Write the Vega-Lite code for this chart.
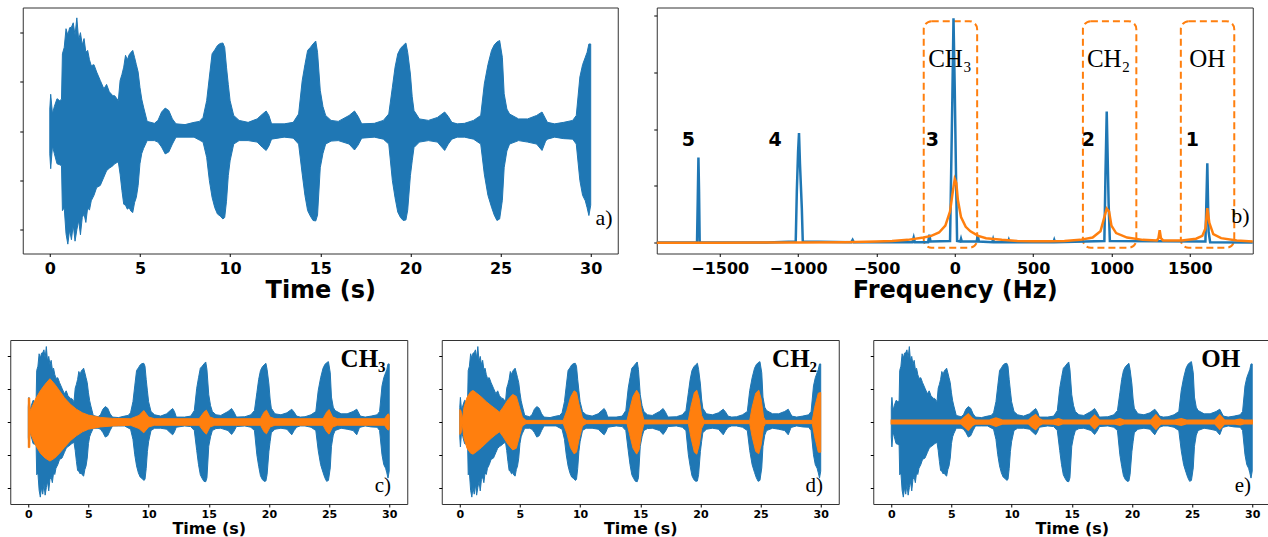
{
"$schema": "https://vega.github.io/schema/vega-lite/v6.json",
"background": "white",
"padding": {"left": 6, "top": 6.5, "right": 0, "bottom": 0},
"config": {
  "view": {"stroke": "#333", "strokeWidth": 1},
  "axis": {"grid": false, "domain": false, "tickColor": "#000", "tickSize": 3, "tickWidth": 1, "labelColor": "#000", "titleColor": "#000", "labelFont": "DejaVu Sans", "titleFont": "DejaVu Sans", "labelFontWeight": "bold", "titleFontWeight": "bold"}
},
"datasets": {
"blue": [
{"t":0.0,"u":0.45,"l":-0.46},{"t":0.05,"u":0.75,"l":-0.76},{"t":0.15,"u":0.35,"l":-0.30},{"t":0.25,"u":0.5,"l":-0.45},{"t":0.4,"u":0.66,"l":-0.66},{"t":0.55,"u":0.62,"l":-0.68},{"t":0.65,"u":0.65,"l":-0.7},{"t":0.7,"u":1.57,"l":-1.61},{"t":0.8,"u":1.7,"l":-1.55},{"t":0.9,"u":2.08,"l":-2.08},{"t":1.0,"u":1.95,"l":-2.29},{"t":1.1,"u":2.1,"l":-2.0},{"t":1.2,"u":2.11,"l":-2.2},{"t":1.3,"u":2.2,"l":-1.9},{"t":1.4,"u":1.95,"l":-2.23},{"t":1.5,"u":2.3,"l":-2.0},{"t":1.6,"u":1.85,"l":-1.81},{"t":1.7,"u":2.0,"l":-2.1},{"t":1.8,"u":1.75,"l":-1.75},{"t":1.9,"u":1.88,"l":-1.68},{"t":2.0,"u":1.6,"l":-1.85},{"t":2.1,"u":1.64,"l":-1.55},{"t":2.2,"u":1.45,"l":-1.6},{"t":2.3,"u":1.33,"l":-1.41},{"t":2.45,"u":1.35,"l":-1.3},{"t":2.6,"u":1.2,"l":-1.14},{"t":2.8,"u":1.03,"l":-1.1},{"t":3.0,"u":0.86,"l":-0.93},{"t":3.15,"u":0.95,"l":-0.8},{"t":3.3,"u":0.8,"l":-0.75},{"t":3.5,"u":0.72,"l":-0.7},{"t":3.6,"u":0.72,"l":-0.66},{"t":3.8,"u":0.62,"l":-0.62},{"t":3.9,"u":1.03,"l":-0.87},{"t":4.0,"u":1.15,"l":-1.2},{"t":4.1,"u":1.3,"l":-1.48},{"t":4.2,"u":1.54,"l":-1.5},{"t":4.3,"u":1.45,"l":-1.58},{"t":4.4,"u":1.55,"l":-1.55},{"t":4.5,"u":1.6,"l":-1.62},{"t":4.6,"u":1.64,"l":-1.65},{"t":4.7,"u":1.5,"l":-1.45},{"t":4.8,"u":1.35,"l":-1.34},{"t":4.9,"u":1.2,"l":-1.1},{"t":5.0,"u":0.89,"l":-0.66},{"t":5.1,"u":0.65,"l":-0.45},{"t":5.2,"u":0.49,"l":-0.35},{"t":5.4,"u":0.2,"l":-0.19},{"t":5.8,"u":0.16,"l":-0.19},{"t":6.0,"u":0.22,"l":-0.22},{"t":6.2,"u":0.39,"l":-0.32},{"t":6.4,"u":0.47,"l":-0.46},{"t":6.6,"u":0.42,"l":-0.42},{"t":6.8,"u":0.25,"l":-0.26},{"t":7.0,"u":0.15,"l":-0.12},{"t":7.5,"u":0.135,"l":-0.12},{"t":8.0,"u":0.18,"l":-0.12},{"t":8.3,"u":0.2,"l":-0.18},{"t":8.5,"u":0.28,"l":-0.22},{"t":8.7,"u":0.62,"l":-0.53},{"t":8.85,"u":1.1,"l":-1.0},{"t":9.0,"u":1.57,"l":-1.34},{"t":9.15,"u":1.65,"l":-1.55},{"t":9.3,"u":1.74,"l":-1.68},{"t":9.45,"u":1.78,"l":-1.72},{"t":9.6,"u":1.79,"l":-1.78},{"t":9.7,"u":1.7,"l":-1.75},{"t":9.8,"u":1.3,"l":-1.42},{"t":9.9,"u":0.95,"l":-0.9},{"t":10.0,"u":0.62,"l":-0.6},{"t":10.2,"u":0.32,"l":-0.26},{"t":10.5,"u":0.22,"l":-0.19},{"t":11.0,"u":0.18,"l":-0.19},{"t":11.5,"u":0.25,"l":-0.22},{"t":11.8,"u":0.35,"l":-0.33},{"t":12.0,"u":0.41,"l":-0.39},{"t":12.15,"u":0.32,"l":-0.3},{"t":12.3,"u":0.15,"l":-0.16},{"t":13.0,"u":0.15,"l":-0.12},{"t":13.5,"u":0.18,"l":-0.14},{"t":13.8,"u":0.35,"l":-0.26},{"t":14.0,"u":1.03,"l":-0.87},{"t":14.15,"u":1.35,"l":-1.3},{"t":14.3,"u":1.64,"l":-1.61},{"t":14.45,"u":1.7,"l":-1.72},{"t":14.6,"u":1.77,"l":-1.81},{"t":14.75,"u":1.83,"l":-1.82},{"t":14.85,"u":1.6,"l":-1.7},{"t":15.0,"u":0.83,"l":-0.74},{"t":15.15,"u":0.5,"l":-0.45},{"t":15.3,"u":0.32,"l":-0.26},{"t":15.6,"u":0.22,"l":-0.2},{"t":16.0,"u":0.2,"l":-0.19},{"t":16.6,"u":0.32,"l":-0.26},{"t":16.9,"u":0.41,"l":-0.38},{"t":17.1,"u":0.3,"l":-0.28},{"t":17.3,"u":0.15,"l":-0.14},{"t":18.0,"u":0.16,"l":-0.12},{"t":18.5,"u":0.22,"l":-0.16},{"t":18.8,"u":0.35,"l":-0.26},{"t":19.0,"u":0.89,"l":-1.0},{"t":19.15,"u":1.3,"l":-1.35},{"t":19.3,"u":1.57,"l":-1.64},{"t":19.45,"u":1.68,"l":-1.75},{"t":19.6,"u":1.74,"l":-1.81},{"t":19.75,"u":1.79,"l":-1.8},{"t":19.85,"u":1.6,"l":-1.6},{"t":20.0,"u":1.16,"l":-0.9},{"t":20.1,"u":0.7,"l":-0.6},{"t":20.2,"u":0.42,"l":-0.33},{"t":20.5,"u":0.25,"l":-0.22},{"t":21.0,"u":0.22,"l":-0.19},{"t":21.5,"u":0.28,"l":-0.22},{"t":21.9,"u":0.39,"l":-0.39},{"t":22.1,"u":0.3,"l":-0.26},{"t":22.3,"u":0.18,"l":-0.16},{"t":22.6,"u":0.15,"l":-0.12},{"t":23.0,"u":0.16,"l":-0.12},{"t":23.5,"u":0.22,"l":-0.16},{"t":23.9,"u":0.32,"l":-0.26},{"t":24.1,"u":0.96,"l":-0.87},{"t":24.3,"u":1.35,"l":-1.3},{"t":24.5,"u":1.64,"l":-1.54},{"t":24.65,"u":1.75,"l":-1.7},{"t":24.8,"u":1.81,"l":-1.81},{"t":24.95,"u":1.84,"l":-1.78},{"t":25.1,"u":1.5,"l":-1.4},{"t":25.2,"u":0.76,"l":-0.74},{"t":25.35,"u":0.45,"l":-0.4},{"t":25.5,"u":0.35,"l":-0.26},{"t":26.0,"u":0.25,"l":-0.19},{"t":26.5,"u":0.25,"l":-0.22},{"t":27.0,"u":0.32,"l":-0.26},{"t":27.3,"u":0.39,"l":-0.39},{"t":27.5,"u":0.25,"l":-0.2},{"t":27.6,"u":0.18,"l":-0.16},{"t":28.0,"u":0.15,"l":-0.12},{"t":28.5,"u":0.18,"l":-0.15},{"t":29.0,"u":0.22,"l":-0.16},{"t":29.2,"u":0.32,"l":-0.26},{"t":29.4,"u":1.1,"l":-1.0},{"t":29.55,"u":1.35,"l":-1.3},{"t":29.7,"u":1.5,"l":-1.41},{"t":29.8,"u":1.6,"l":-1.55},{"t":29.9,"u":1.77,"l":-1.71},{"t":30.0,"u":1.77,"l":-1.5}
],
"ch3": [
{"t":0.0,"u":0.73,"l":-0.78},{"t":0.12,"u":0.73,"l":-0.78},{"t":0.15,"u":0.35,"l":-0.3},{"t":0.3,"u":0.45,"l":-0.45},{"t":0.6,"u":0.7,"l":-0.7},{"t":1.0,"u":0.95,"l":-0.95},{"t":1.4,"u":1.15,"l":-1.1},{"t":1.8,"u":1.32,"l":-1.19},{"t":2.2,"u":1.15,"l":-1.1},{"t":2.6,"u":0.95,"l":-0.95},{"t":3.0,"u":0.74,"l":-0.78},{"t":3.5,"u":0.54,"l":-0.57},{"t":4.0,"u":0.39,"l":-0.42},{"t":4.5,"u":0.28,"l":-0.3},{"t":5.0,"u":0.21,"l":-0.22},{"t":6.0,"u":0.14,"l":-0.15},{"t":7.0,"u":0.11,"l":-0.12},{"t":8.5,"u":0.1,"l":-0.1},{"t":9.2,"u":0.2,"l":-0.2},{"t":9.6,"u":0.35,"l":-0.33},{"t":10.0,"u":0.15,"l":-0.15},{"t":10.5,"u":0.1,"l":-0.1},{"t":14.2,"u":0.1,"l":-0.1},{"t":14.6,"u":0.3,"l":-0.3},{"t":14.8,"u":0.36,"l":-0.37},{"t":15.1,"u":0.15,"l":-0.15},{"t":15.5,"u":0.1,"l":-0.1},{"t":19.3,"u":0.1,"l":-0.1},{"t":19.6,"u":0.3,"l":-0.3},{"t":19.8,"u":0.36,"l":-0.36},{"t":20.1,"u":0.15,"l":-0.15},{"t":20.5,"u":0.1,"l":-0.1},{"t":24.5,"u":0.1,"l":-0.1},{"t":24.8,"u":0.3,"l":-0.3},{"t":25.0,"u":0.38,"l":-0.37},{"t":25.3,"u":0.15,"l":-0.15},{"t":25.7,"u":0.1,"l":-0.1},{"t":29.6,"u":0.1,"l":-0.1},{"t":29.9,"u":0.25,"l":-0.25},{"t":30.0,"u":0.22,"l":-0.22}
],
"ch2": [
{"t":0.0,"u":0.38,"l":-0.38},{"t":0.1,"u":0.35,"l":-0.35},{"t":0.2,"u":0.06,"l":-0.06},{"t":0.35,"u":0.45,"l":-0.5},{"t":0.6,"u":0.75,"l":-0.8},{"t":0.9,"u":0.92,"l":-0.95},{"t":1.1,"u":0.96,"l":-0.98},{"t":1.4,"u":0.88,"l":-0.9},{"t":1.8,"u":0.76,"l":-0.78},{"t":2.2,"u":0.62,"l":-0.64},{"t":2.6,"u":0.5,"l":-0.5},{"t":3.0,"u":0.39,"l":-0.38},{"t":3.3,"u":0.3,"l":-0.3},{"t":3.6,"u":0.45,"l":-0.45},{"t":4.0,"u":0.68,"l":-0.68},{"t":4.4,"u":0.84,"l":-0.85},{"t":4.7,"u":0.78,"l":-0.8},{"t":5.0,"u":0.4,"l":-0.38},{"t":5.2,"u":0.15,"l":-0.12},{"t":5.5,"u":0.05,"l":-0.05},{"t":8.6,"u":0.05,"l":-0.05},{"t":8.9,"u":0.35,"l":-0.35},{"t":9.2,"u":0.75,"l":-0.78},{"t":9.5,"u":0.95,"l":-0.97},{"t":9.7,"u":0.9,"l":-0.92},{"t":9.9,"u":0.55,"l":-0.55},{"t":10.2,"u":0.12,"l":-0.12},{"t":10.5,"u":0.05,"l":-0.05},{"t":13.9,"u":0.05,"l":-0.05},{"t":14.1,"u":0.35,"l":-0.35},{"t":14.4,"u":0.78,"l":-0.8},{"t":14.7,"u":0.97,"l":-0.98},{"t":14.9,"u":0.85,"l":-0.85},{"t":15.1,"u":0.35,"l":-0.35},{"t":15.3,"u":0.06,"l":-0.06},{"t":19.0,"u":0.05,"l":-0.05},{"t":19.2,"u":0.45,"l":-0.45},{"t":19.5,"u":0.9,"l":-0.92},{"t":19.7,"u":0.97,"l":-0.98},{"t":19.9,"u":0.7,"l":-0.7},{"t":20.1,"u":0.2,"l":-0.2},{"t":20.3,"u":0.05,"l":-0.05},{"t":24.1,"u":0.05,"l":-0.05},{"t":24.3,"u":0.45,"l":-0.45},{"t":24.6,"u":0.88,"l":-0.9},{"t":24.85,"u":0.97,"l":-0.97},{"t":25.05,"u":0.7,"l":-0.7},{"t":25.25,"u":0.15,"l":-0.15},{"t":25.4,"u":0.05,"l":-0.05},{"t":29.3,"u":0.05,"l":-0.05},{"t":29.5,"u":0.45,"l":-0.45},{"t":29.8,"u":0.88,"l":-0.92},{"t":30.0,"u":0.9,"l":-0.92}
],
"oh": [
{"t":0.0,"u":0.05,"l":-0.05},{"t":5.8,"u":0.05,"l":-0.05},{"t":6.1,"u":0.15,"l":-0.15},{"t":6.4,"u":0.24,"l":-0.25},{"t":6.7,"u":0.12,"l":-0.12},{"t":7.0,"u":0.05,"l":-0.05},{"t":8.2,"u":0.06,"l":-0.06},{"t":8.7,"u":0.12,"l":-0.13},{"t":9.2,"u":0.06,"l":-0.06},{"t":11.4,"u":0.05,"l":-0.05},{"t":11.7,"u":0.15,"l":-0.15},{"t":12.0,"u":0.22,"l":-0.23},{"t":12.3,"u":0.1,"l":-0.1},{"t":12.6,"u":0.05,"l":-0.05},{"t":13.5,"u":0.06,"l":-0.06},{"t":13.9,"u":0.1,"l":-0.1},{"t":14.3,"u":0.05,"l":-0.05},{"t":16.5,"u":0.05,"l":-0.05},{"t":16.9,"u":0.2,"l":-0.2},{"t":17.3,"u":0.05,"l":-0.05},{"t":18.6,"u":0.06,"l":-0.06},{"t":19.0,"u":0.1,"l":-0.1},{"t":19.4,"u":0.05,"l":-0.05},{"t":21.6,"u":0.05,"l":-0.05},{"t":22.0,"u":0.22,"l":-0.22},{"t":22.4,"u":0.05,"l":-0.05},{"t":23.6,"u":0.06,"l":-0.06},{"t":24.1,"u":0.1,"l":-0.1},{"t":24.6,"u":0.05,"l":-0.05},{"t":26.9,"u":0.05,"l":-0.05},{"t":27.3,"u":0.22,"l":-0.22},{"t":27.7,"u":0.05,"l":-0.05},{"t":28.6,"u":0.06,"l":-0.06},{"t":29.0,"u":0.08,"l":-0.08},{"t":29.4,"u":0.05,"l":-0.05},{"t":30.0,"u":0.05,"l":-0.05}
],
"specB": [
{"f":-1902,"v":0.005},{"f":-1700,"v":0.005},{"f":-1645,"v":0.01},{"f":-1640,"v":0.8},{"f":-1636,"v":1.5},{"f":-1632,"v":0.9},{"f":-1628,"v":0.01},{"f":-1200,"v":0.005},{"f":-1015,"v":0.02},{"f":-1008,"v":0.9},{"f":-1000,"v":1.6},{"f":-994,"v":1.93},{"f":-988,"v":1.4},{"f":-982,"v":1.0},{"f":-976,"v":0.6},{"f":-970,"v":0.02},{"f":-660,"v":0.01},{"f":-652,"v":0.05},{"f":-645,"v":0.01},{"f":-270,"v":0.01},{"f":-262,"v":0.09},{"f":-255,"v":0.01},{"f":-170,"v":0.01},{"f":-162,"v":0.14},{"f":-155,"v":0.02},{"f":-30,"v":0.03},{"f":-15,"v":2.6},{"f":-8,"v":3.95},{"f":0,"v":2.7},{"f":8,"v":1.2},{"f":15,"v":0.03},{"f":35,"v":0.02},{"f":40,"v":0.07},{"f":45,"v":0.02},{"f":140,"v":0.02},{"f":147,"v":0.13},{"f":154,"v":0.02},{"f":240,"v":0.01},{"f":245,"v":0.06},{"f":250,"v":0.01},{"f":340,"v":0.01},{"f":345,"v":0.05},{"f":350,"v":0.01},{"f":630,"v":0.01},{"f":635,"v":0.05},{"f":640,"v":0.01},{"f":955,"v":0.03},{"f":962,"v":1.2},{"f":970,"v":2.31},{"f":976,"v":1.5},{"f":982,"v":0.7},{"f":990,"v":0.03},{"f":1600,"v":0.02},{"f":1612,"v":1.4},{"f":1620,"v":0.2},{"f":1630,"v":0.01},{"f":1902,"v":0.005}
],
"specO": [
{"f":-1902,"v":0.0},{"f":-1500,"v":0.0},{"f":-1000,"v":0.005},{"f":-700,"v":0.01},{"f":-500,"v":0.02},{"f":-400,"v":0.03},{"f":-300,"v":0.05},{"f":-200,"v":0.09},{"f":-150,"v":0.12},{"f":-100,"v":0.18},{"f":-60,"v":0.3},{"f":-30,"v":0.55},{"f":-15,"v":0.85},{"f":0,"v":1.12},{"f":10,"v":1.05},{"f":20,"v":0.75},{"f":40,"v":0.45},{"f":70,"v":0.28},{"f":100,"v":0.2},{"f":150,"v":0.12},{"f":200,"v":0.08},{"f":300,"v":0.05},{"f":400,"v":0.03},{"f":500,"v":0.025},{"f":600,"v":0.025},{"f":700,"v":0.03},{"f":800,"v":0.05},{"f":880,"v":0.09},{"f":930,"v":0.2},{"f":955,"v":0.45},{"f":970,"v":0.6},{"f":985,"v":0.55},{"f":1000,"v":0.3},{"f":1030,"v":0.17},{"f":1100,"v":0.09},{"f":1200,"v":0.05},{"f":1290,"v":0.04},{"f":1300,"v":0.08},{"f":1308,"v":0.22},{"f":1316,"v":0.08},{"f":1330,"v":0.04},{"f":1450,"v":0.04},{"f":1540,"v":0.07},{"f":1580,"v":0.12},{"f":1600,"v":0.25},{"f":1612,"v":0.61},{"f":1625,"v":0.35},{"f":1650,"v":0.15},{"f":1700,"v":0.08},{"f":1800,"v":0.04},{"f":1902,"v":0.02}
],
"boxes": [
{"f1":-198,"f2":143,"v1":-0.09,"v2":3.9},{"f1":818,"f2":1159,"v1":-0.09,"v2":3.9},{"f1":1443,"f2":1784,"v1":-0.09,"v2":3.9}
],
"peaks": [
{"f":-1700,"v":1.81,"s":"5"},{"f":-1146,"v":1.81,"s":"4"},{"f":-143,"v":1.81,"s":"3"},{"f":852,"v":1.81,"s":"2"},{"f":1516,"v":1.81,"s":"1"}
],
"groups": [
{"f":-31,"v":3.24,"s":"CH₃"},{"f":982,"v":3.24,"s":"CH₂"},{"f":1612,"v":3.24,"s":"OH"}
]
},
"spacing": 36.5,
"center": true,
"vconcat": [
{
 "hconcat": [
  {
   "width": 595, "height": 246,
   "layer": [
    {"data": {"name": "blue"}, "mark": {"type": "area", "color": "#1f77b4", "stroke": "#1f77b4", "strokeWidth": 1},
     "encoding": {
      "x": {"field": "t", "type": "quantitative", "scale": {"domain": [-1.5, 31.5], "nice": false, "zero": false}, "axis": {"values": [0,5,10,15,20,25,30], "title": "Time (s)", "labelFontSize": 16, "titleFontSize": 24, "labelPadding": 4, "titlePadding": 1.5}},
      "y": {"field": "u", "type": "quantitative", "scale": {"domain": [-2.48, 2.51], "nice": false, "zero": false}, "axis": {"values": [-2,-1,0,1,2], "labels": false, "title": null}},
      "y2": {"field": "l"}
     }},
    {"data": {"values": [{"t": 31.22, "v": -1.91, "s": "a)"}]}, "mark": {"type": "text", "align": "right", "baseline": "alphabetic", "font": "Liberation Serif", "fontSize": 22, "color": "#000"},
     "encoding": {"x": {"field": "t", "type": "quantitative"}, "y": {"field": "v", "type": "quantitative"}, "text": {"field": "s"}}}
   ]
  },
  {
   "width": 596, "height": 246,
   "layer": [
    {"data": {"name": "boxes"}, "mark": {"type": "rect", "filled": false, "stroke": "#ff7f0e", "strokeWidth": 2, "strokeDash": [7, 4], "cornerRadius": 8},
     "encoding": {
      "x": {"field": "f1", "type": "quantitative", "scale": {"domain": [-1902, 1902], "nice": false, "zero": false}, "axis": {"values": [-1500,-1000,-500,0,500,1000,1500], "format": "d", "title": "Frequency (Hz)", "labelFontSize": 16, "titleFontSize": 24, "labelPadding": 4, "titlePadding": 1.5}},
      "x2": {"field": "f2"},
      "y": {"field": "v1", "type": "quantitative", "scale": {"domain": [-0.19, 4.14], "nice": false, "zero": false}, "axis": {"values": [0,1,2,3,4], "labels": false, "title": null}},
      "y2": {"field": "v2"}
     }},
    {"data": {"name": "specB"}, "mark": {"type": "line", "color": "#1f77b4", "strokeWidth": 2.5},
     "encoding": {"x": {"field": "f", "type": "quantitative"}, "y": {"field": "v", "type": "quantitative"}}},
    {"data": {"name": "specO"}, "mark": {"type": "line", "color": "#ff7f0e", "strokeWidth": 2.5},
     "encoding": {"x": {"field": "f", "type": "quantitative"}, "y": {"field": "v", "type": "quantitative"}}},
    {"data": {"name": "peaks"}, "mark": {"type": "text", "align": "center", "baseline": "middle", "font": "DejaVu Sans", "fontWeight": "bold", "fontSize": 19, "color": "#000"},
     "encoding": {"x": {"field": "f", "type": "quantitative"}, "y": {"field": "v", "type": "quantitative"}, "text": {"field": "s"}}},
    {"data": {"name": "groups"}, "mark": {"type": "text", "align": "center", "baseline": "middle", "font": "Liberation Serif", "fontSize": 25, "color": "#000"},
     "encoding": {"x": {"field": "f", "type": "quantitative"}, "y": {"field": "v", "type": "quantitative"}, "text": {"field": "s"}}},
    {"data": {"values": [{"f": 1881, "v": 0.34, "s": "b)"}]}, "mark": {"type": "text", "align": "right", "baseline": "alphabetic", "font": "Liberation Serif", "fontSize": 22, "color": "#000"},
     "encoding": {"x": {"field": "f", "type": "quantitative"}, "y": {"field": "v", "type": "quantitative"}, "text": {"field": "s"}}}
   ]
  }
 ],
 "spacing": 39,
 "bounds": "flush"
},
{
 "hconcat": [
  {
   "width": 397, "height": 164,
   "layer": [
    {"data": {"name": "blue"}, "mark": {"type": "area", "color": "#1f77b4", "stroke": "#1f77b4", "strokeWidth": 1},
     "encoding": {
      "x": {"field": "t", "type": "quantitative", "scale": {"domain": [-1.5, 31.5], "nice": false, "zero": false}, "axis": {"values": [0,5,10,15,20,25,30], "title": "Time (s)", "labelFontSize": 11, "titleFontSize": 16, "labelPadding": 1, "titlePadding": 1}},
      "y": {"field": "u", "type": "quantitative", "scale": {"domain": [-2.5, 2.5], "nice": false, "zero": false}, "axis": {"values": [-2,-1,0,1,2], "labels": false, "title": null}},
      "y2": {"field": "l"}
     }},
    {"data": {"name": "ch3"}, "mark": {"type": "area", "color": "#ff7f0e", "stroke": "#ff7f0e", "strokeWidth": 1},
     "encoding": {"x": {"field": "t", "type": "quantitative"}, "y": {"field": "u", "type": "quantitative"}, "y2": {"field": "l"}}},
    {"data": {"values": [{"t": 29.7, "v": 1.69, "s": "CH₃"}]}, "mark": {"type": "text", "align": "right", "baseline": "alphabetic", "font": "Liberation Serif", "fontWeight": "bold", "fontSize": 25, "color": "#000"},
     "encoding": {"x": {"field": "t", "type": "quantitative"}, "y": {"field": "v", "type": "quantitative"}, "text": {"field": "s"}}},
    {"data": {"values": [{"t": 30.15, "v": -2.14, "s": "c)"}]}, "mark": {"type": "text", "align": "right", "baseline": "alphabetic", "font": "Liberation Serif", "fontSize": 21, "color": "#000"},
     "encoding": {"x": {"field": "t", "type": "quantitative"}, "y": {"field": "v", "type": "quantitative"}, "text": {"field": "s"}}}
   ]
  },
  {
   "width": 397, "height": 164,
   "layer": [
    {"data": {"name": "blue"}, "mark": {"type": "area", "color": "#1f77b4", "stroke": "#1f77b4", "strokeWidth": 1},
     "encoding": {
      "x": {"field": "t", "type": "quantitative", "scale": {"domain": [-1.5, 31.5], "nice": false, "zero": false}, "axis": {"values": [0,5,10,15,20,25,30], "title": "Time (s)", "labelFontSize": 11, "titleFontSize": 16, "labelPadding": 1, "titlePadding": 1}},
      "y": {"field": "u", "type": "quantitative", "scale": {"domain": [-2.5, 2.5], "nice": false, "zero": false}, "axis": {"values": [-2,-1,0,1,2], "labels": false, "title": null}},
      "y2": {"field": "l"}
     }},
    {"data": {"name": "ch2"}, "mark": {"type": "area", "color": "#ff7f0e", "stroke": "#ff7f0e", "strokeWidth": 1},
     "encoding": {"x": {"field": "t", "type": "quantitative"}, "y": {"field": "u", "type": "quantitative"}, "y2": {"field": "l"}}},
    {"data": {"values": [{"t": 29.7, "v": 1.69, "s": "CH₂"}]}, "mark": {"type": "text", "align": "right", "baseline": "alphabetic", "font": "Liberation Serif", "fontWeight": "bold", "fontSize": 25, "color": "#000"},
     "encoding": {"x": {"field": "t", "type": "quantitative"}, "y": {"field": "v", "type": "quantitative"}, "text": {"field": "s"}}},
    {"data": {"values": [{"t": 30.2, "v": -2.14, "s": "d)"}]}, "mark": {"type": "text", "align": "right", "baseline": "alphabetic", "font": "Liberation Serif", "fontSize": 21, "color": "#000"},
     "encoding": {"x": {"field": "t", "type": "quantitative"}, "y": {"field": "v", "type": "quantitative"}, "text": {"field": "s"}}}
   ]
  },
  {
   "width": 397, "height": 164,
   "layer": [
    {"data": {"name": "blue"}, "mark": {"type": "area", "color": "#1f77b4", "stroke": "#1f77b4", "strokeWidth": 1},
     "encoding": {
      "x": {"field": "t", "type": "quantitative", "scale": {"domain": [-1.5, 31.5], "nice": false, "zero": false}, "axis": {"values": [0,5,10,15,20,25,30], "title": "Time (s)", "labelFontSize": 11, "titleFontSize": 16, "labelPadding": 1, "titlePadding": 1}},
      "y": {"field": "u", "type": "quantitative", "scale": {"domain": [-2.5, 2.5], "nice": false, "zero": false}, "axis": {"values": [-2,-1,0,1,2], "labels": false, "title": null}},
      "y2": {"field": "l"}
     }},
    {"data": {"name": "oh"}, "mark": {"type": "area", "color": "#ff7f0e", "stroke": "#ff7f0e", "strokeWidth": 1.5},
     "encoding": {"x": {"field": "t", "type": "quantitative"}, "y": {"field": "u", "type": "quantitative"}, "y2": {"field": "l"}}},
    {"data": {"values": [{"t": 29.0, "v": 1.69, "s": "OH"}]}, "mark": {"type": "text", "align": "right", "baseline": "alphabetic", "font": "Liberation Serif", "fontWeight": "bold", "fontSize": 25, "color": "#000"},
     "encoding": {"x": {"field": "t", "type": "quantitative"}, "y": {"field": "v", "type": "quantitative"}, "text": {"field": "s"}}},
    {"data": {"values": [{"t": 29.9, "v": -2.14, "s": "e)"}]}, "mark": {"type": "text", "align": "right", "baseline": "alphabetic", "font": "Liberation Serif", "fontSize": 21, "color": "#000"},
     "encoding": {"x": {"field": "t", "type": "quantitative"}, "y": {"field": "v", "type": "quantitative"}, "text": {"field": "s"}}}
   ]
  }
 ],
 "spacing": 34.5,
 "bounds": "flush"
}
]
}
